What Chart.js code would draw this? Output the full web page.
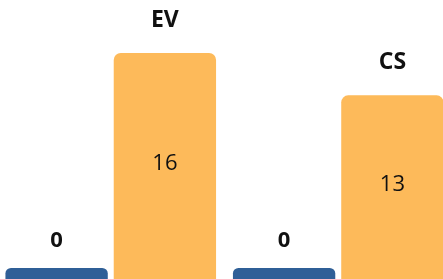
<!DOCTYPE html>
<html><head><meta charset="utf-8">
<script src="https://cdn.jsdelivr.net/npm/chart.js@4.4.0/dist/chart.umd.min.js"></script>
<style>
html,body{margin:0;padding:0;background:#fff;overflow:hidden;width:443px;height:279px;}
#wrap{position:absolute;left:-3px;top:0;width:455px;height:279px;}
</style></head>
<body><div id="wrap"><canvas id="c"></canvas></div>
<script>
const categories = ["EV", "CS"];
const seriesA = [0, 0];
const seriesB = [16, 13];

const FONT = '"Open Sans"';
const labelPlugin = {
  id: 'labels',
  afterDatasetsDraw(chart) {
    const ctx = chart.ctx;
    ctx.save();
    ctx.fillStyle = '#111';
    ctx.textAlign = 'center';
    ctx.textBaseline = 'middle';
    const m0 = chart.getDatasetMeta(0), m1 = chart.getDatasetMeta(1);
    m0.data.forEach((bar, i) => {
      ctx.font = 'bold 22px ' + FONT;
      ctx.fillText(String(seriesA[i]), bar.x, bar.y - 27);
    });
    m1.data.forEach((bar, i) => {
      ctx.font = '22px ' + FONT;
      ctx.fillText(String(seriesB[i]), bar.x, (bar.y + bar.base) / 2 - 2);
      ctx.font = 'bold 23px ' + FONT;
      ctx.fillText(categories[i], bar.x, bar.y - 33);
    });
    ctx.restore();
  }
};

new Chart(document.getElementById('c'), {
  type: 'bar',
  data: {
    labels: categories,
    datasets: [
      { data: seriesA, backgroundColor: '#2F5F97', minBarLength: 11,
        borderRadius: {topLeft: 7, topRight: 7, bottomLeft: 0, bottomRight: 0}, borderSkipped: 'start' },
      { data: seriesB, backgroundColor: '#FDBA5A',
        borderRadius: {topLeft: 7, topRight: 7, bottomLeft: 0, bottomRight: 0}, borderSkipped: 'start' }
    ]
  },
  options: {
    responsive: true, maintainAspectRatio: false, animation: false,
    layout: { padding: 0 },
    datasets: { bar: { categoryPercentage: 0.952, barPercentage: 0.945 } },
    plugins: { legend: { display: false }, tooltip: { enabled: false } },
    scales: {
      x: { display: false },
      y: { display: false, min: 0, max: 19.75 }
    }
  },
  plugins: [labelPlugin]
});
</script></body></html>
